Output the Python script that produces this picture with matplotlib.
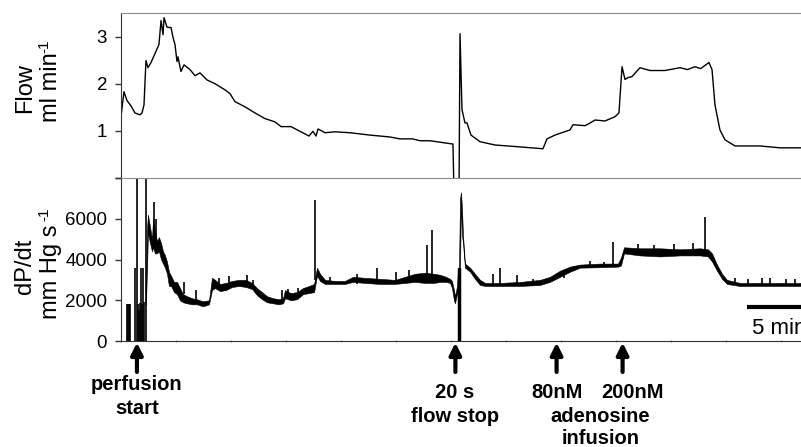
import matplotlib
matplotlib.use("Agg")
import matplotlib.pyplot as plt
import numpy as np

plt.rcParams['font.family'] = ['Liberation Sans', 'DejaVu Sans']

# ---- data (time in min) ----
flow_t = [0.0, 0.27, 0.55, 0.91, 1.27, 1.73, 1.91, 2.09, 2.27, 2.45, 2.73, 3.09, 3.45,
          3.64, 3.82, 3.91, 4.18, 4.55, 4.73, 4.91, 5.09, 5.18, 5.45, 5.73, 6.27, 6.73,
          7.18, 7.82, 8.55, 9.45, 9.91, 10.36, 11.27, 12.18, 13.09, 14.0, 14.55, 15.45,
          16.36, 17.09, 17.45, 17.73, 17.91, 18.55, 19.45, 20.82, 22.64, 24.45, 25.36,
          26.5, 27.2, 28.09, 30.18, 30.27, 30.73, 30.82, 31.0, 31.27, 31.45, 31.82, 32.64,
          34.0, 36.27, 38.36, 38.73, 39.45, 40.82, 41.09, 42.18, 42.6, 43.09, 44.0, 44.91,
          45.27, 45.55, 45.82, 46.09, 46.45, 47.18, 48.09, 49.45, 50.82, 51.5, 52.18,
          52.7, 53.45, 53.73, 54.0, 54.45, 54.91, 55.82, 58.09, 59.91, 61.82]
flow_v = [1.30, 1.83, 1.64, 1.53, 1.38, 1.34, 1.38, 1.55, 2.49, 2.34, 2.45, 2.64, 2.83,
          3.34, 3.04, 3.40, 3.20, 3.19, 2.98, 2.83, 2.47, 2.57, 2.26, 2.40, 2.30, 2.17,
          2.23, 2.08, 2.00, 1.87, 1.79, 1.62, 1.51, 1.38, 1.26, 1.19, 1.09, 1.09, 0.98,
          0.89, 0.99, 0.89, 1.04, 0.96, 0.98, 0.96, 0.91, 0.87, 0.83,
          0.83, 0.79, 0.79, 0.72, -0.30, -0.30, 3.06, 1.45, 1.17, 1.17, 0.91, 0.77,
          0.70, 0.66, 0.62, 0.83, 0.91, 1.02, 1.13, 1.11, 1.16, 1.23, 1.21, 1.30,
          1.38, 2.36, 2.09, 2.13, 2.15, 2.34, 2.28, 2.28, 2.34, 2.30, 2.36,
          2.32, 2.45, 2.30, 1.55, 1.02, 0.81, 0.68, 0.68, 0.64, 0.64]

# dP/dt noise band: time, lower and upper edge
dp_t = [2.27, 2.36, 2.45, 2.64, 2.82, 2.91, 3.09, 3.27, 3.45, 3.64, 3.82, 4.0, 4.18,
        4.36, 4.55, 4.82, 5.09, 5.36, 5.64, 6.0, 6.45, 6.91, 7.45, 8.0, 8.27, 8.55,
        9.0, 9.55, 10.09, 10.73, 11.36, 11.91, 12.36, 12.82, 13.27, 13.82, 14.36, 14.73,
        14.91, 15.45, 16.0, 16.55, 17.09, 17.55, 17.82, 18.09, 18.55, 19.45, 20.36,
        21.09, 22.18, 23.55, 24.91, 25.82, 26.73, 27.64, 28.45, 29.0, 29.55, 29.91,
        30.09, 30.27, 30.36, 30.55, 30.64, 30.73, 30.82, 30.91, 31.0, 31.09, 31.27,
        31.73, 32.18, 32.64, 33.09, 34.45, 36.27, 38.09, 39.0, 39.91, 40.82, 41.73,
        43.55, 45.18, 45.45, 45.73, 47.18, 49.0, 50.82, 52.64, 53.36, 53.73, 54.18,
        54.64, 55.09, 56.27, 58.09, 59.91, 61.82]
dp_lo = [1800, 3500, 5300, 4800, 4400, 4600, 4300, 4300, 4400, 4000, 3800, 3600, 3300,
         2700, 2700, 2400, 2300, 2000, 1900, 1850, 1800, 1800, 1700, 1800, 2500, 2600,
         2450, 2500, 2650, 2700, 2650, 2550, 2250, 2050, 1900, 1850, 1800, 1850,
         2100, 2000, 2050, 2300, 2350, 2400, 3200, 2950, 2800, 2800, 2800,
         2900, 2850, 2800, 2800, 2850, 2900, 2850, 2850, 2900, 2900, 2850,
         2600, 2000, 1850, 2300, 2500, 3000, 3600, 6800, 5200, 4800, 3600,
         3400, 3050, 2750, 2700, 2700, 2700, 2750, 2900, 3150, 3400, 3600,
         3620, 3650, 3700, 4300, 4200, 4150, 4200, 4200, 4150, 3900, 3450,
         3050, 2800, 2700, 2700, 2700, 2700]
dp_hi = [2500, 5500, 6200, 5600, 5000, 6000, 5400, 4900, 5100, 4800, 4400, 4200, 3900,
         3400, 3200, 2900, 2900, 2600, 2300, 2200, 2100, 2050, 1950, 2000, 3100, 3000,
         2800, 2850, 2950, 3000, 3000, 2850, 2600, 2400, 2200, 2100, 2050, 2100,
         2500, 2350, 2400, 2600, 2700, 2800, 3600, 3300, 3000, 2950, 2950,
         3150, 3100, 3050, 3000, 3150, 3300, 3350, 3300, 3250, 3150, 3050,
         2950, 2500, 2200, 2700, 3600, 3600, 7000, 7300, 6500, 5200, 3800,
         3600, 3300, 3000, 2850, 2850, 2900, 3000, 3150, 3450, 3650, 3750,
         3800, 3800, 4100, 4600, 4550, 4550, 4500, 4550, 4500, 4300, 3750,
         3300, 3000, 2850, 2850, 2850, 2850]

# artefacts at perfusion start and isolated spikes: time, base, top
spike_t = [0.55, 0.64, 0.73, 0.82, 1.27, 1.45, 1.55, 1.64, 1.73, 1.82, 1.91, 2.0, 2.09,
           2.27, 3.0, 3.2, 5.7, 6.8, 8.91, 9.8, 11.45, 12.0, 14.6, 15.2, 16.1,
           17.64, 19.0, 21.5, 23.27, 25.0, 26.2, 27.82, 28.27, 30.73, 33.8, 34.45,
           36.0, 37.5, 40.3, 41.2, 42.6, 43.9, 44.73, 47.0, 48.5, 50.3, 52.0, 53.09,
           55.8, 57.0, 58.3, 59.0, 60.5, 61.3]
spike_base = [0, 0, 0, 0, 0, 0, 0, 0, 0, 0, 0, 0, 0,
              0, 4500, 4400, 2300, 1900, 2700, 2600, 2750, 2600, 1850, 2100, 2100,
              3000, 2800, 2800, 2900, 2850, 2900, 2900, 2900, 0, 2750, 2750,
              2750, 2750, 3100, 3450, 3650, 3650, 3700, 4250, 4200, 4250, 4250, 4300,
              2800, 2750, 2750, 2750, 2750, 2750]
spike_top = [1800, 1800, 1800, 1800, 3600, 8500, 1800, 1500, 1850, 3600, 1800, 3600, 1900,
             8500, 6800, 6000, 2900, 2500, 3100, 3200, 3250, 3000, 2500, 2550, 2600,
             6900, 3150, 3300, 3600, 3400, 3500, 4700, 5450, 3600, 3300, 3600,
             3250, 3050, 3450, 3700, 3950, 3900, 4850, 4750, 4700, 4750, 4800, 6100,
             3100, 3050, 3100, 3100, 3050, 3050]

events_t = [1.45, 30.4, 39.6, 45.6]

fig = plt.figure(figsize=(8.01, 4.47), dpi=100)
W, H = 801.0, 447.0
left = 121 / W
width = 1.0 - left
ax1 = fig.add_axes([left, (H - 178) / H, width, 165 / H])
ax2 = fig.add_axes([left, (H - 341) / H, width, 163 / H])

spine_dark = '#333333'
spine_gray = '#8c8c8c'

# flow panel
ax1.plot(flow_t, flow_v, color='black', lw=1.0)
ax1.set_xlim(0, 61.82)
ax1.set_ylim(0, 3.5)
ax1.set_yticks([0, 1, 2, 3])
ax1.set_yticklabels(['', '1', '2', '3'])
ax1.set_xticks([])
ax1.spines['right'].set_visible(False)
ax1.spines['bottom'].set_visible(False)
ax1.spines['top'].set_color(spine_gray)
ax1.spines['left'].set_color(spine_dark)

# dP/dt panel
ax2.fill_between(dp_t, dp_lo, dp_hi, color='black', lw=0.4)
ax2.vlines(spike_t, spike_base, spike_top, color='black', lw=1.2)
ax2.vlines([30.73], [0], [3600], color='black', lw=2.5)
ax2.set_xlim(0, 61.82)
ax2.set_ylim(0, 8000)
ax2.set_yticks([0, 2000, 4000, 6000, 8000])
ax2.set_yticklabels(['0', '2000', '4000', '6000', ''])
ax2.set_xticks(np.arange(0, 62, 5))
ax2.set_xticklabels([])
ax2.tick_params(axis='x', length=2, direction='inout', color=spine_gray)
ax2.spines['right'].set_visible(False)
ax2.spines['top'].set_color(spine_gray)
ax2.spines['left'].set_color(spine_dark)
ax2.spines['bottom'].set_color(spine_dark)

for ax in (ax1, ax2):
    ax.tick_params(axis='y', length=4, width=1, color=spine_dark, labelsize=13.5, pad=6)
    ax.patch.set_visible(False)

# scale bar
ax2.hlines(1670, 56.9, 62.0, color='black', lw=3)
fig.text(752 / W, 1 - 328 / H, '5 min', fontsize=16, va='center', ha='left')

# y labels (superscripts as separate small texts, plain hyphen as in the source)
ylab = dict(rotation=90, fontsize=17, ha='center', va='center')
sup = dict(rotation=90, fontsize=11, ha='center', va='center')
fig.text(25 / W, 1 - 88 / H, 'Flow', **ylab)
fig.text(51 / W, 1 - 87 / H, 'ml min', **ylab)
fig.text(44 / W, 1 - 46 / H, '-1', **sup)
fig.text(25 / W, 1 - 266 / H, 'dP/dt', **ylab)
fig.text(51 / W, 1 - 272 / H, 'mm Hg s', **ylab)
fig.text(44 / W, 1 - 214 / H, '-1', **sup)

# event arrows
trans = ax2.get_xaxis_transform()
for t in events_t:
    ax2.annotate('', xy=(t, -0.01), xytext=(t, -0.19), xycoords=trans, textcoords=trans,
                 arrowprops=dict(arrowstyle='-|>,head_length=0.7,head_width=0.35',
                                 color='black', lw=3, shrinkA=0, shrinkB=0),
                 annotation_clip=False)

lab = dict(fontsize=14.5, fontweight='bold', ha='center', va='center',
           family=['Liberation Sans Narrow', 'Liberation Sans', 'DejaVu Sans'])
fig.text(137 / W, 1 - 385 / H, 'perfusion', **lab)
fig.text(137 / W, 1 - 408 / H, 'start', **lab)
fig.text(455 / W, 1 - 393 / H, '20 s', **lab)
fig.text(455 / W, 1 - 416 / H, 'flow stop', **lab)
fig.text(557 / W, 1 - 393 / H, '80nM', **lab)
fig.text(633 / W, 1 - 393 / H, '200nM', **lab)
fig.text(600 / W, 1 - 416 / H, 'adenosine', **lab)
fig.text(601 / W, 1 - 439 / H, 'infusion', **lab)

fig.savefig('out.png', dpi=100)
